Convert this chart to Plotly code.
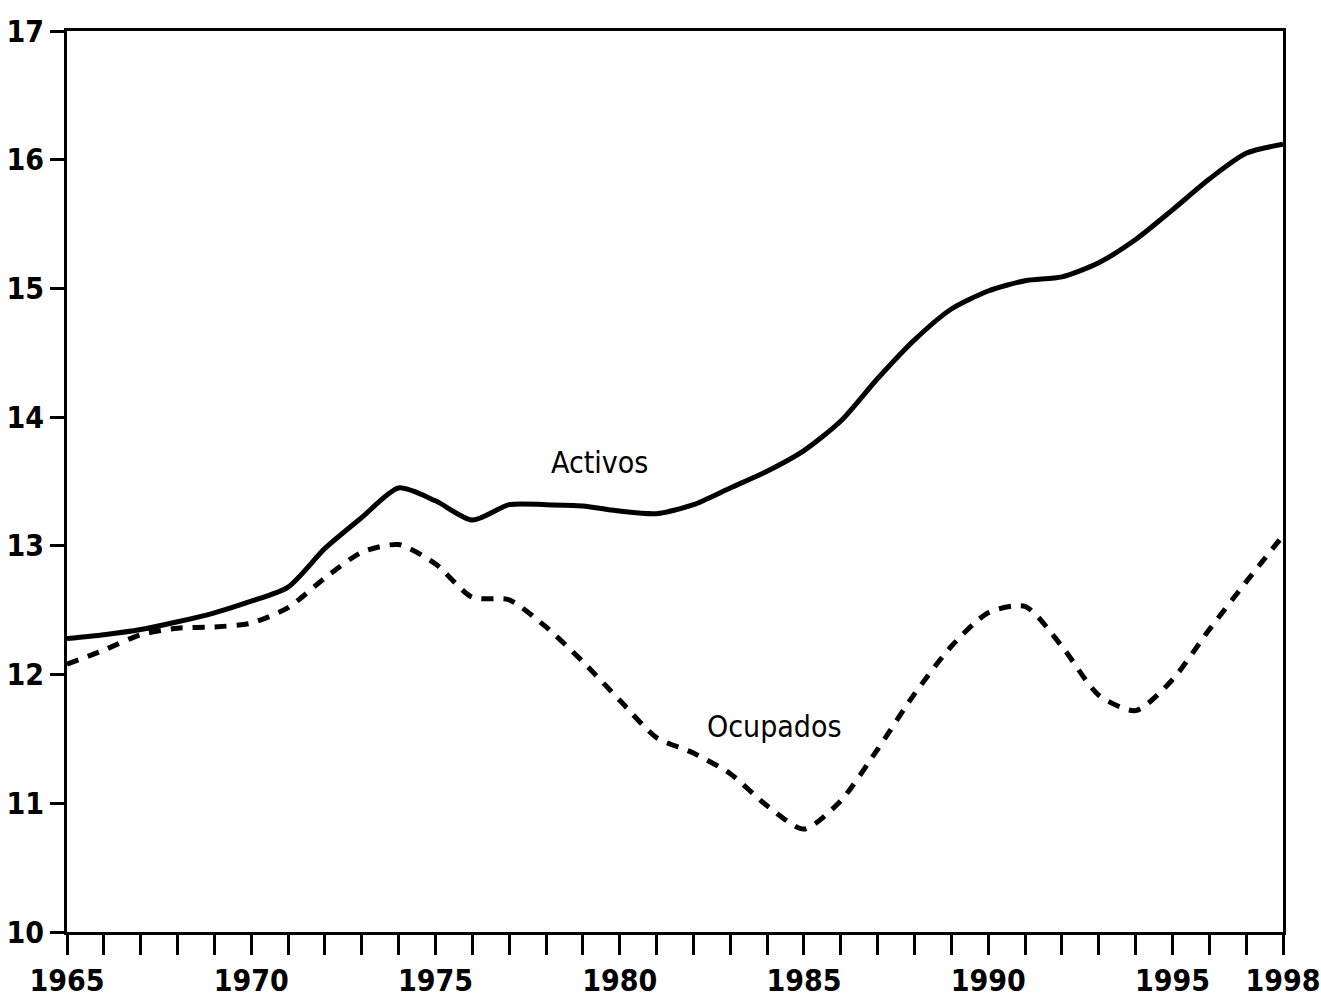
import plotly.graph_objects as go

years = list(range(1965, 1999))
activos = [12.28, 12.31, 12.35, 12.41, 12.48, 12.57, 12.68, 12.98, 13.22, 13.45,
           13.35, 13.20, 13.32, 13.32, 13.31, 13.27, 13.25, 13.32, 13.45, 13.58,
           13.74, 13.97, 14.30, 14.60, 14.84, 14.98, 15.06, 15.09, 15.20, 15.38,
           15.61, 15.85, 16.05, 16.12]
ocupados = [12.08, 12.19, 12.31, 12.36, 12.37, 12.40, 12.52, 12.75, 12.95, 13.01,
            12.86, 12.60, 12.58, 12.37, 12.10, 11.80, 11.51, 11.39, 11.23, 10.98,
            10.80, 11.02, 11.42, 11.85, 12.22, 12.48, 12.53, 12.22, 11.84, 11.72,
            11.96, 12.35, 12.72, 13.08]
x_label_years = [1965, 1970, 1975, 1980, 1985, 1990, 1995, 1998]
y_ticks = [10, 11, 12, 13, 14, 15, 16, 17]

FONT = "DejaVu Sans Condensed, Liberation Sans Narrow, Arial Narrow, sans-serif"

fig = go.Figure()
fig.add_trace(go.Scatter(x=years, y=activos, mode="lines", name="Activos",
                         line=dict(color="black", width=5, shape="spline", smoothing=0.7)))
fig.add_trace(go.Scatter(x=years, y=ocupados, mode="lines", name="Ocupados",
                         line=dict(color="black", width=5, shape="spline", smoothing=0.7,
                                   dash="12px,10px")))

fig.add_annotation(x=1979.45, y=13.65, text="Activos", showarrow=False,
                   font=dict(family=FONT, size=30, color="black"))
fig.add_annotation(x=1984.2, y=11.6, text="Ocupados", showarrow=False,
                   font=dict(family=FONT, size=30, color="black"))

fig.update_layout(
    width=1321, height=1004,
    margin=dict(l=67, r=38, t=31, b=72, autoexpand=False),
    paper_bgcolor="white", plot_bgcolor="white",
    showlegend=False,
    font=dict(family=FONT, color="black"),
)
fig.update_xaxes(
    range=[1965, 1998],
    tickmode="array", tickvals=years,
    ticktext=[str(y) if y in x_label_years else "" for y in years],
    ticks="outside", ticklen=20, tickwidth=3, tickcolor="black",
    tickfont=dict(family=FONT, size=30, color="black", weight="bold"),
    ticklabeloverflow="allow",
    showline=True, linewidth=3, linecolor="black", mirror=True,
    showgrid=False, zeroline=False, automargin=False,
)
fig.update_yaxes(
    range=[10, 17],
    tickmode="array", tickvals=y_ticks, ticktext=[str(v) for v in y_ticks],
    ticks="outside", ticklen=14, tickwidth=3, tickcolor="black",
    tickfont=dict(family=FONT, size=30, color="black", weight="bold"),
    ticklabeloverflow="allow",
    showline=True, linewidth=3, linecolor="black", mirror=True,
    showgrid=False, zeroline=False, automargin=False,
)

fig.write_html("out.html", config={"displayModeBar": False},
               post_script="document.body.style.margin='0';document.body.style.overflow='hidden';")
